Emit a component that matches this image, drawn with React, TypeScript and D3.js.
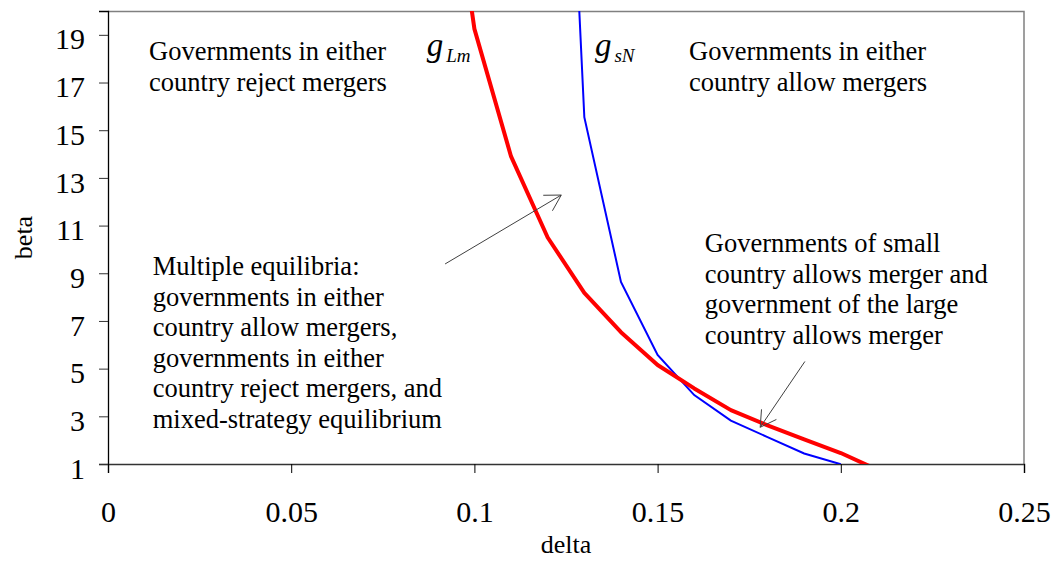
import { useEffect, useRef } from "react";
import * as d3 from "d3";

// delta grid used for both curves
const deltaLm = [0.09, 0.1, 0.11, 0.12, 0.13, 0.14, 0.15, 0.16, 0.17, 0.18, 0.19, 0.2, 0.21];
const betaLm = [30, 19.25, 13.9, 10.5, 8.18, 6.53, 5.15, 4.17, 3.26, 2.62, 2.03, 1.46, 0.76];

const deltaSN = [0.12, 0.13, 0.14, 0.15, 0.16, 0.17, 0.18, 0.19, 0.2];
const betaSN = [48, 15.55, 8.64, 5.57, 3.89, 2.82, 2.13, 1.44, 0.99];

const xTicks = [0, 0.05, 0.1, 0.15, 0.2, 0.25];
const yTicks = [1, 3, 5, 7, 9, 11, 13, 15, 17, 19];

type Note = { x: number; y: number; lines: string[] };

const notes: Note[] = [
  { x: 0.0112, y: 17.94, lines: ["Governments in either", "country reject mergers"] },
  { x: 0.1586, y: 17.94, lines: ["Governments in either", "country allow mergers"] },
  {
    x: 0.0122,
    y: 8.92,
    lines: [
      "Multiple equilibria:",
      "governments in either",
      "country allow mergers,",
      "governments in either",
      "country reject mergers, and",
      "mixed-strategy equilibrium",
    ],
  },
  {
    x: 0.1629,
    y: 9.89,
    lines: [
      "Governments of small",
      "country allows merger and",
      "government of the large",
      "country allows merger",
    ],
  },
];

// arrows: [fromDelta, fromBeta, toDelta, toBeta]
const arrows = [
  [0.092, 9.39, 0.1237, 12.28],
  [0.1902, 5.3, 0.178, 2.54],
];

const curveLabels = [
  { x: 0.087, y: 18.1, main: "g", sub: "Lm" },
  { x: 0.1329, y: 18.1, main: "g", sub: "sN" },
];

const FONT = "'Liberation Serif', 'Times New Roman', serif";

export default function App() {
  const ref = useRef<SVGSVGElement>(null);

  useEffect(() => {
    document.body.style.margin = "0";
    const width = 1053;
    const height = 563;
    const margin = { top: 11, right: 29, bottom: 99, left: 108 };
    const w = width - margin.left - margin.right;
    const h = height - margin.top - margin.bottom;

    const svg = d3.select(ref.current);
    svg.selectAll("*").remove();

    const x = d3.scaleLinear().domain([0, 0.25]).range([0, w]);
    const y = d3.scaleLinear().domain([1, 20]).range([h, 0]);

    const g = svg
      .append("g")
      .attr("transform", "translate(" + margin.left + "," + margin.top + ")");

    g.append("clipPath")
      .attr("id", "plotclip")
      .append("rect")
      .attr("width", w)
      .attr("height", h);

    // top and right border of plot area
    g.append("path")
      .attr("d", `M0,0.5H${w}V${h}`)
      .attr("fill", "none")
      .attr("stroke", "#808080")
      .attr("stroke-width", 1.5);

    // y axis
    const yAxis = g.append("g").call(d3.axisLeft(y).tickValues(yTicks).tickSize(9).tickFormat(d3.format("d")));
    yAxis.select(".domain").attr("stroke", "#000").attr("stroke-width", 1.3);
    yAxis.selectAll(".tick line").attr("stroke", "#333");
    yAxis
      .selectAll("text")
      .attr("font-family", FONT)
      .attr("font-size", 30)
      .attr("fill", "#000")
      .attr("x", -23)
      .attr("dy", "0.47em");

    // x axis
    const xAxis = g
      .append("g")
      .attr("transform", "translate(0," + h + ")")
      .call(
        d3
          .axisBottom(x)
          .tickValues(xTicks)
          .tickSize(9)
          .tickFormat((d) => String(+d))
      );
    xAxis.select(".domain").attr("stroke", "#333").attr("stroke-width", 1.5);
    xAxis.selectAll(".tick line").attr("stroke", "#000");
    xAxis
      .selectAll("text")
      .attr("font-family", FONT)
      .attr("font-size", 30)
      .attr("fill", "#000")
      .attr("y", 58)
      .attr("dy", 0);

    // axis titles
    g.append("text")
      .attr("x", w / 2)
      .attr("y", h + 89)
      .attr("text-anchor", "middle")
      .attr("font-family", FONT)
      .attr("font-size", 26)
      .text("delta");

    g.append("text")
      .attr("transform", "rotate(-90)")
      .attr("x", -h / 2)
      .attr("y", -76)
      .attr("text-anchor", "middle")
      .attr("font-family", FONT)
      .attr("font-size", 26)
      .text("beta");

    const line = d3
      .line<[number, number]>()
      .x((d) => x(d[0]))
      .y((d) => y(d[1]));

    const plot = g.append("g").attr("clip-path", "url(#plotclip)");

    plot
      .append("path")
      .datum(deltaSN.map((d, i) => [d, betaSN[i]] as [number, number]))
      .attr("d", line)
      .attr("fill", "none")
      .attr("stroke", "#0000ff")
      .attr("stroke-width", 2);

    plot
      .append("path")
      .datum(deltaLm.map((d, i) => [d, betaLm[i]] as [number, number]))
      .attr("d", line)
      .attr("fill", "none")
      .attr("stroke", "#ff0000")
      .attr("stroke-width", 4)
      .attr("stroke-linejoin", "round");

    // annotation text
    notes.forEach((n) => {
      const t = g
        .append("text")
        .attr("font-family", FONT)
        .attr("font-size", 26.5)
        .attr("fill", "#000");
      n.lines.forEach((l, i) => {
        t.append("tspan")
          .attr("x", x(n.x))
          .attr("y", y(n.y) + i * 30.5)
          .text(l);
      });
    });

    // curve labels
    curveLabels.forEach((c) => {
      const t = g
        .append("text")
        .attr("x", x(c.x))
        .attr("y", y(c.y))
        .attr("font-family", FONT)
        .attr("font-style", "italic")
        .attr("font-size", 33);
      t.append("tspan").text(c.main);
      t.append("tspan").attr("font-size", 19).attr("dx", 3).attr("dy", 6).text(c.sub);
    });

    // arrows
    arrows.forEach(([x0, y0, x1, y1]) => {
      const px0 = x(x0);
      const py0 = y(y0);
      const px1 = x(x1);
      const py1 = y(y1);
      const ang = Math.atan2(py0 - py1, px0 - px1);
      const len = 18;
      const spread = Math.PI / 6;
      const path = d3.path();
      path.moveTo(px0, py0);
      path.lineTo(px1, py1);
      path.moveTo(px1 + len * Math.cos(ang - spread), py1 + len * Math.sin(ang - spread));
      path.lineTo(px1, py1);
      path.lineTo(px1 + len * Math.cos(ang + spread), py1 + len * Math.sin(ang + spread));
      g.append("path")
        .attr("d", path.toString())
        .attr("fill", "none")
        .attr("stroke", "#404040")
        .attr("stroke-width", 1);
    });
  }, []);

  return <svg ref={ref} width={1053} height={563} style={{ display: "block", background: "#fff" }} />;
}
